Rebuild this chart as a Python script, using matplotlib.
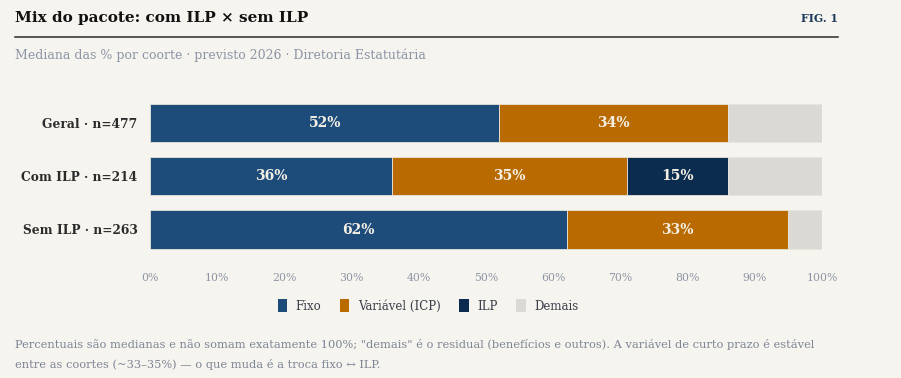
import matplotlib.pyplot as plt
from matplotlib.patches import Patch

# data
cohorts = ['Geral · n=477', 'Com ILP · n=214', 'Sem ILP · n=263']
fixo = [52, 36, 62]
variavel = [34, 35, 33]
ilp = [0, 15, 0]
demais = [14, 14, 5]
series_names = ['Fixo', 'Variável (ICP)', 'ILP', 'Demais']
ticks = [0, 10, 20, 30, 40, 50, 60, 70, 80, 90, 100]

BG = '#f6f4ef'
colors = ['#1d4b7a', '#b96a00', '#0b2c4f', '#dad9d5']
GRAY = '#8c94a5'

plt.rcParams['font.family'] = ['DejaVu Serif']

fig = plt.figure(figsize=(9.01, 3.78), dpi=100, facecolor=BG)
ax = fig.add_axes([150 / 901, 1 - 261.45 / 378, 672 / 901, 170.4 / 378])
ax.set_facecolor(BG)

# stacked bars
ypos = range(len(cohorts))
left = [0, 0, 0]
for name, vals, c in zip(series_names, [fixo, variavel, ilp, demais], colors):
    ax.barh(ypos, vals, left=left, height=0.72, color=c, edgecolor='#e8e4da',
            linewidth=0.6, label=name)
    for i, v in enumerate(vals):
        if v > 0 and name != 'Demais':
            ax.text(left[i] + v / 2, i, f'{v}%', ha='center', va='center',
                    color='#f3efe4', fontsize=10, fontweight='bold')
    left = [l + v for l, v in zip(left, vals)]

ax.set_xlim(0, 100)
ax.set_ylim(2.6, -0.6)
ax.set_yticks(list(ypos))
ax.set_yticklabels(cohorts, fontsize=8.8, fontweight='bold', color='#2b2b2b')
ax.set_xticks(ticks)
ax.set_xticklabels([f'{t}%' for t in ticks], fontsize=7.8, color=GRAY)
ax.tick_params(length=0, axis='y', pad=9)
ax.tick_params(length=0, axis='x', pad=8)
for s in ax.spines.values():
    s.set_visible(False)

# legend
handles = [Patch(facecolor=c, edgecolor='none') for c in colors]
fig.legend(handles, series_names, loc='center', bbox_to_anchor=(428 / 901, 1 - 306 / 378),
           ncol=4, frameon=False, fontsize=8.5, handlelength=0.8, handleheight=1.3,
           handletextpad=0.7, columnspacing=1.6, labelcolor='#3a3f4a')

# header
fig.text(15 / 901, 1 - 18 / 378, 'Mix do pacote: com ILP × sem ILP', fontsize=11,
         fontweight='bold', color='#111111', va='center')
fig.text(838 / 901, 1 - 18 / 378, 'FIG. 1', fontsize=7.8, fontweight='bold',
         color='#1d3a5c', va='center', ha='right')
fig.add_artist(plt.Line2D([15 / 901, 838 / 901], [1 - 37 / 378, 1 - 37 / 378],
                          color='#2b2b2b', linewidth=1.1))
fig.text(15 / 901, 1 - 55 / 378, 'Mediana das % por coorte · previsto 2026 · Diretoria Estatutária',
         fontsize=9, color=GRAY, va='center')

# footnote
fig.text(15 / 901, 1 - 345 / 378,
         'Percentuais são medianas e não somam exatamente 100%; "demais" é o residual (benefícios e outros). '
         'A variável de curto prazo é estável',
         fontsize=8.2, color='#7d8494', va='center')
fig.text(15 / 901, 1 - 364 / 378,
         'entre as coortes (~33–35%) — o que muda é a troca fixo ↔ ILP.',
         fontsize=8.2, color='#7d8494', va='center')

fig.savefig('out.png', dpi=100, facecolor=BG)
